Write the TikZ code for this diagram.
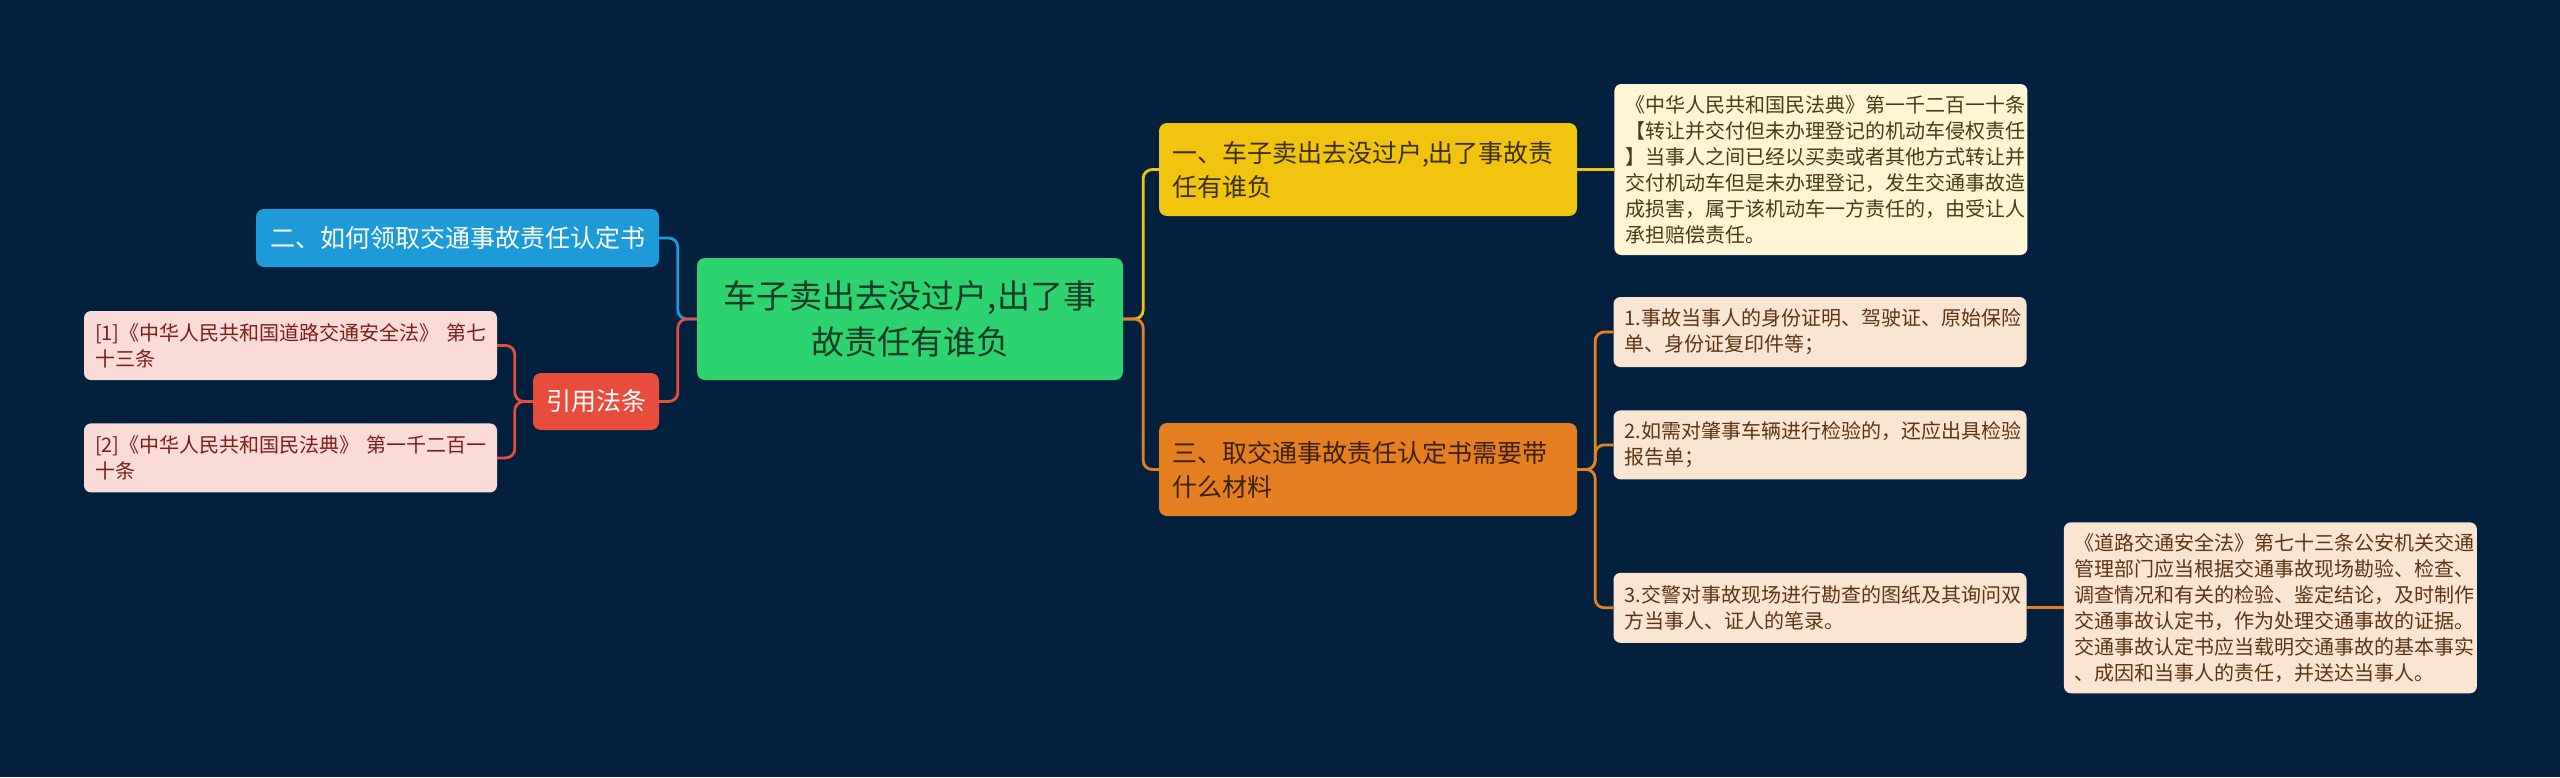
\documentclass[tikz,border=0pt]{standalone}
\usepackage{fontspec}
\setmainfont{Noto Sans CJK SC}
\usepackage{tikz}
\usetikzlibrary{positioning}

\definecolor{bgnavy}{HTML}{03213F}
\definecolor{rootgreen}{HTML}{2DD36F}
\definecolor{roottext}{HTML}{173B2A}
\definecolor{bluec}{HTML}{1C9BD8}
\definecolor{redc}{HTML}{E74C3C}
\definecolor{yellowc}{HTML}{F1C40F}
\definecolor{orangec}{HTML}{E67E22}
\definecolor{soldtext}{HTML}{3D2F05}
\definecolor{needtext}{HTML}{3B2108}
\definecolor{creamleaf}{HTML}{FDF5D4}
\definecolor{creamtext}{HTML}{4A3A12}
\definecolor{peachleaf}{HTML}{FAE5D3}
\definecolor{peachtext}{HTML}{5C3415}
\definecolor{pinkleaf}{HTML}{FADBD8}
\definecolor{pinktext}{HTML}{7B1E1A}

\begin{document}
\begin{tikzpicture}[
    x=1pt, y=-1pt,
    topic/.style={rounded corners=8pt, inner sep=0pt, align=left, font=\fontsize{25pt}{34pt}\selectfont},
    leaf/.style={rounded corners=7pt, inner sep=0pt, text width=391pt, minimum width=413pt, align=left, font=\fontsize{20pt}{26pt}\selectfont},
    link/.style={line width=2.8pt, rounded corners=9pt}
]
\useasboundingbox (0,0) rectangle (2560,777);
\fill[bgnavy] (0,0) rectangle (2560,777);

\node[topic, fill=rootgreen, text=roottext, minimum width=426pt, minimum height=122pt, text width=410pt, align=center, font=\fontsize{33pt}{46pt}\selectfont] (root) at (910,319) {车子卖出去没过户,出了事\\故责任有谁负};

\node[topic, fill=bluec, text=white, minimum width=403pt, minimum height=58pt] (how) at (457.5,238) {二、如何领取交通事故责任认定书};
\node[topic, fill=redc, text=white, minimum width=126pt, minimum height=57pt] (cite) at (596,401.5) {引用法条};
\node[leaf, fill=pinkleaf, text=pinktext, minimum height=69pt] (ref1) at (290.5,345.5) {[1]《中华人民共和国道路交通安全法》~第七\\十三条};
\node[leaf, fill=pinkleaf, text=pinktext, minimum height=69pt, below=43pt of ref1] (ref2) {[2]《中华人民共和国民法典》~第一千二百一\\十条};

\node[topic, fill=yellowc, text=soldtext, minimum width=418pt, minimum height=93pt, text width=392pt] (sold) at (1368,169.5) {一、车子卖出去没过户,出了事故责\\任有谁负};
\node[leaf, fill=creamleaf, text=creamtext, minimum height=171pt, right=37pt of sold] (soldlaw) {《中华人民共和国民法典》第一千二百一十条\\【转让并交付但未办理登记的机动车侵权责任\\】当事人之间已经以买卖或者其他方式转让并\\交付机动车但是未办理登记，发生交通事故造\\成损害，属于该机动车一方责任的，由受让人\\承担赔偿责任。};

\node[topic, fill=orangec, text=needtext, minimum width=418pt, minimum height=93pt, text width=392pt] (need) at (1368,469.5) {三、取交通事故责任认定书需要带\\什么材料};
\node[leaf, fill=peachleaf, text=peachtext, minimum height=70pt] (item1) at (1820,332) {1.事故当事人的身份证明、驾驶证、原始保险\\单、身份证复印件等；};
\node[leaf, fill=peachleaf, text=peachtext, minimum height=69pt, below=43pt of item1] (item2) {2.如需对肇事车辆进行检验的，还应出具检验\\报告单；};
\node[leaf, fill=peachleaf, text=peachtext, minimum height=70pt, below=93pt of item2] (item3) {3.交警对事故现场进行勘查的图纸及其询问双\\方当事人、证人的笔录。};
\node[leaf, fill=peachleaf, text=peachtext, minimum height=171pt, right=37pt of item3] (item3law) {《道路交通安全法》第七十三条公安机关交通\\管理部门应当根据交通事故现场勘验、检查、\\调查情况和有关的检验、鉴定结论，及时制作\\交通事故认定书，作为处理交通事故的证据。\\交通事故认定书应当载明交通事故的基本事实\\、成因和当事人的责任，并送达当事人。};

\draw[link, draw=bluec] (root.west) -- ++(-19,0) |- (how.east);
\draw[link, draw=redc] (root.west) -- ++(-19,0) |- (cite.east);
\draw[link, draw=redc] (cite.west) -- ++(-18,0) |- (ref1.east);
\draw[link, draw=redc] (cite.west) -- ++(-18,0) |- (ref2.east);
\draw[link, draw=yellowc] (root.east) -- ++(20,0) |- (sold.west);
\draw[link, draw=orangec] (root.east) -- ++(20,0) |- (need.west);
\draw[link, draw=yellowc] (sold) -- (soldlaw);
\draw[link, draw=orangec] (need.east) -- ++(18,0) |- (item1.west);
\draw[link, draw=orangec] (need.east) -- ++(18,0) |- (item2.west);
\draw[link, draw=orangec] (need.east) -- ++(18,0) |- (item3.west);
\draw[link, draw=orangec] (item3) -- (item3law);
\end{tikzpicture}
\end{document}
